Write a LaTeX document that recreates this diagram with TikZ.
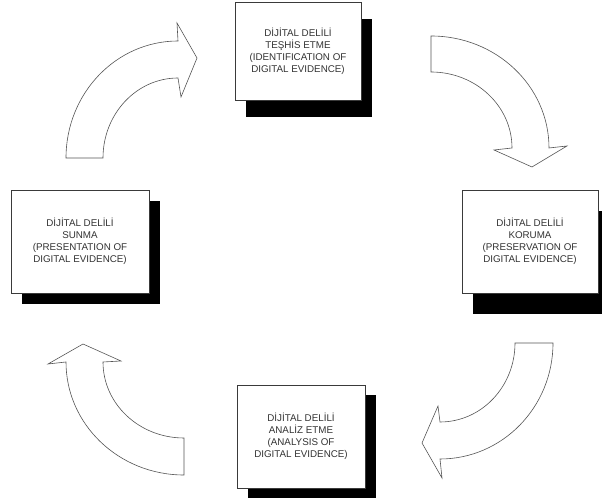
\documentclass[tikz,border=0pt]{standalone}
\usepackage{fontspec}
\setmainfont{Liberation Sans}
\usetikzlibrary{shadows}
\definecolor{boxline}{HTML}{3A3A3A}
\definecolor{arrowline}{HTML}{555555}
\definecolor{steptext}{HTML}{333333}
\tikzset{
  stepbox/.style={draw=boxline, line width=0.8pt, fill=white, align=center, inner sep=0pt,
    text=steptext, font=\fontsize{9.8}{12}\selectfont},
  boxshadow/.style={general shadow={fill=black, shadow xshift=11pt, shadow yshift=-#1}},
  bentarrow/.style={draw=arrowline, line width=0.6pt, fill=white, line join=miter}
}

\begin{document}
\begin{tikzpicture}[x=1pt, y=1pt]
	\useasboundingbox (0,0) rectangle (602,502);
	% steps of the process
	\node[stepbox, boxshadow=17pt, minimum width=126pt, minimum height=98pt] (teshis) at (298,451)
		{DİJİTAL DELİLİ\\TEŞHİS ETME\\(IDENTIFICATION OF\\DIGITAL EVIDENCE)};
	\node[stepbox, boxshadow=21pt, minimum width=136pt, minimum height=103pt] (koruma) at (530,260.5)
		{DİJİTAL DELİLİ\\KORUMA\\(PRESERVATION OF\\DIGITAL EVIDENCE)};
	\node[stepbox, boxshadow=10pt, minimum width=128pt, minimum height=103pt] (analiz) at (301,65.5)
		{DİJİTAL DELİLİ\\ANALİZ ETME\\(ANALYSIS OF\\DIGITAL EVIDENCE)};
	\node[stepbox, boxshadow=11pt, minimum width=138pt, minimum height=103pt] (sunma) at (80,260.5)
		{DİJİTAL DELİLİ\\SUNMA\\(PRESENTATION OF\\DIGITAL EVIDENCE)};
	% bent arrows between the steps
	\draw[bentarrow] (66,344) arc[start angle=180, end angle=90, x radius=112, y radius=117]
		-- (177,479) -- (197,444) -- (181,405) -- (178,424)
		arc[start angle=90, end angle=180, x radius=75, y radius=80] -- cycle;
	\draw[bentarrow] (431,466) arc[start angle=90, end angle=0, x radius=118, y radius=112]
		-- (567,356) -- (532,335) -- (494,352) -- (512,354)
		arc[start angle=0, end angle=90, x radius=81, y radius=76] -- cycle;
	\draw[bentarrow] (553,159) arc[start angle=0, end angle=-90, x radius=113, y radius=116]
		-- (442,24) -- (422,59) -- (438,96) -- (440,80)
		arc[start angle=-90, end angle=0, x radius=75, y radius=79] -- cycle;
	\draw[bentarrow] (184,27) arc[start angle=-90, end angle=-180, x radius=118, y radius=113]
		-- (48,138) -- (83,158) -- (121,141) -- (103,140)
		arc[start angle=180, end angle=270, x radius=81, y radius=76] -- cycle;
\end{tikzpicture}
\end{document}
